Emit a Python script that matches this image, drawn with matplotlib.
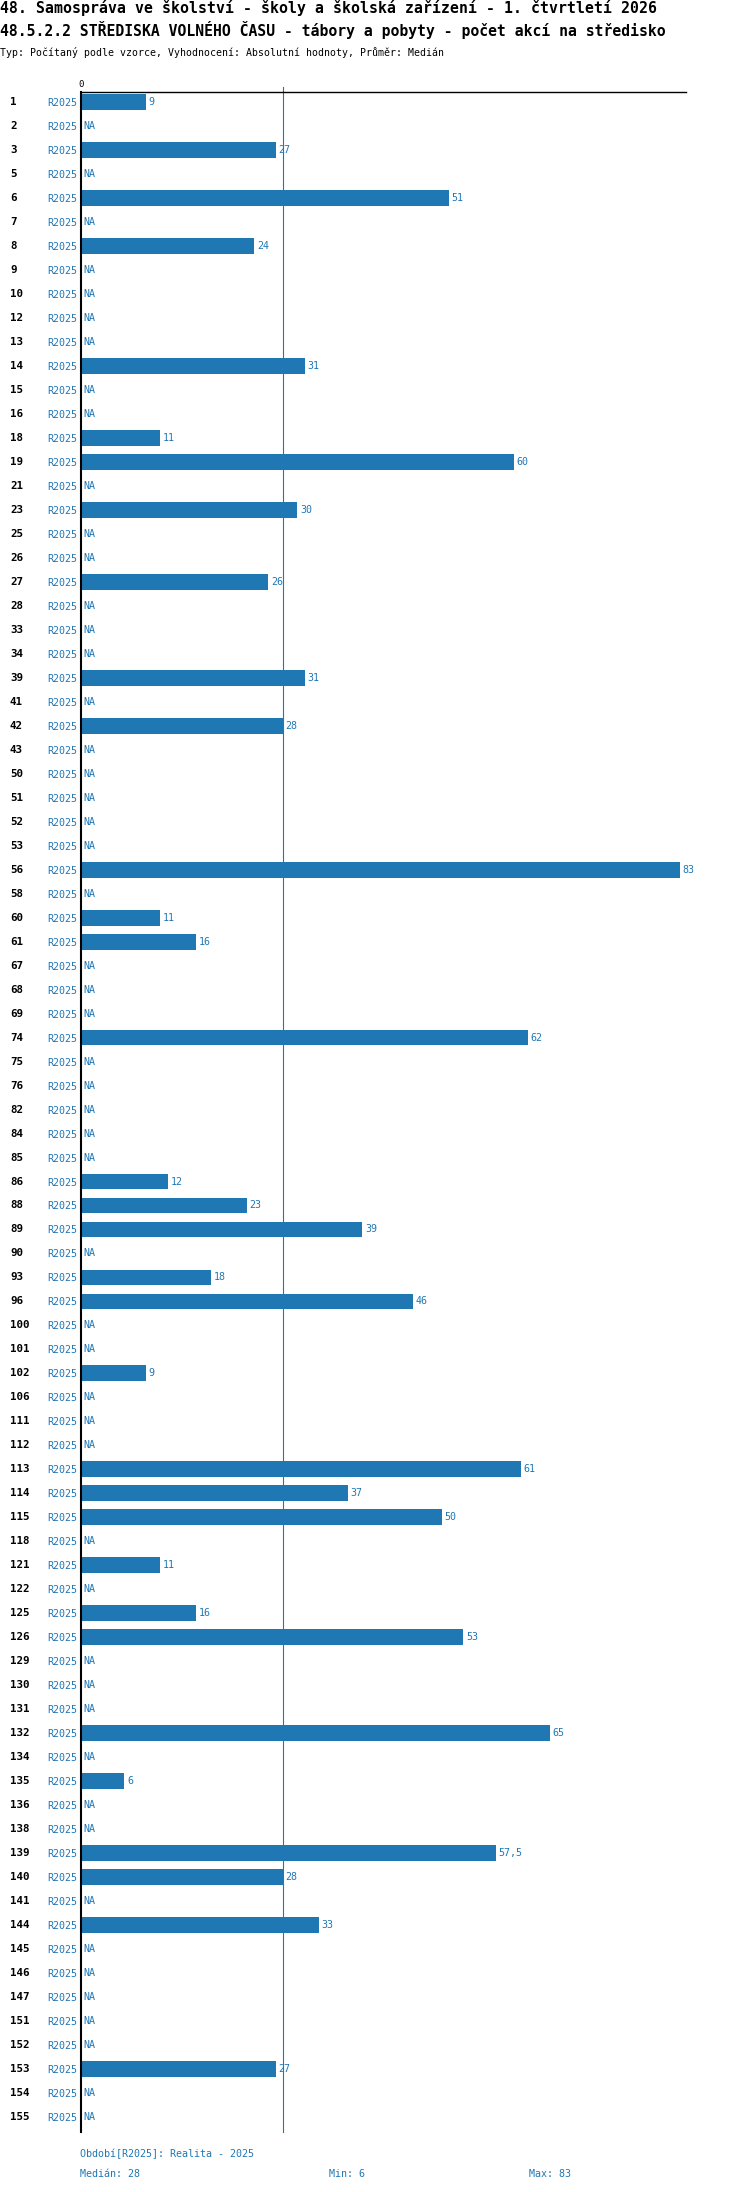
import matplotlib
matplotlib.use("Agg")
import matplotlib.pyplot as plt
import numpy as np

rows = [1, 2, 3, 5, 6, 7, 8, 9, 10, 12, 13, 14, 15, 16, 18, 19, 21, 23, 25, 26,
        27, 28, 33, 34, 39, 41, 42, 43, 50, 51, 52, 53, 56, 58, 60, 61, 67, 68, 69, 74,
        75, 76, 82, 84, 85, 86, 88, 89, 90, 93, 96, 100, 101, 102, 106, 111, 112, 113, 114, 115,
        118, 121, 122, 125, 126, 129, 130, 131, 132, 134, 135, 136, 138, 139, 140, 141, 144, 145, 146, 147,
        151, 152, 153, 154, 155]
values = [9, None, 27, None, 51, None, 24, None, None, None, None, 31, None, None, 11, 60, None, 30, None, None,
          26, None, None, None, 31, None, 28, None, None, None, None, None, 83, None, 11, 16, None, None, None, 62,
          None, None, None, None, None, 12, 23, 39, None, 18, 46, None, None, 9, None, None, None, 61, 37, 50,
          None, 11, None, 16, 53, None, None, None, 65, None, 6, None, None, 57.5, 28, None, 33, None, None, None,
          None, None, 27, None, None]
period = "R2025"
median_val = 28
min_val = 6
max_val = 83

title1 = "48. Samospráva ve školství - školy a školská zařízení - 1. čtvrtletí 2026"
title2 = "48.5.2.2 STŘEDISKA VOLNÉHO ČASU - tábory a pobyty - počet akcí na středisko"
subtitle = "Typ: Počítaný podle vzorce, Vyhodnocení: Absolutní hodnoty, Průměr: Medián"
footer1 = "Období[R2025]: Realita - 2025"

BLUE = "#1f77b4"
FONT = "DejaVu Sans Mono"
W, H = 750, 2192

fig = plt.figure(figsize=(W / 100, H / 100), dpi=100)
ax_left, ax_right, ax_top, ax_bot = 81, 686, 92, 2132
ax = fig.add_axes([ax_left / W, 1 - ax_bot / H, (ax_right - ax_left) / W, (ax_bot - ax_top) / H])

n = len(rows)
ypos = np.arange(n)
vals = np.array([np.nan if v is None else v for v in values], dtype=float)
ax.barh(ypos, np.nan_to_num(vals), height=0.66, color=BLUE, zorder=2)

ax.set_xlim(0, 83.9)
ax.set_ylim(n - 1 + 0.625, -0.42)

for s in ["right", "bottom"]:
    ax.spines[s].set_visible(False)
ax.spines["left"].set_linewidth(1.5)
ax.spines["top"].set_linewidth(1.0)
ax.spines["left"].set_zorder(3)

ax.xaxis.tick_top()
ax.set_xticks([0])
ax.set_xticklabels(["0"], fontsize=6.5, family=FONT)
ax.tick_params(axis="x", length=0, pad=2)

ax.set_yticks(ypos)
ax.set_yticklabels([period] * n, fontsize=7.2, family=FONT, color=BLUE)
ax.tick_params(axis="y", length=0, pad=3)

ax.axvline(median_val, ymin=0, ymax=1.0025, color=BLUE, lw=0.8, clip_on=False, zorder=1)

def fmt(v):
    if v == int(v):
        return str(int(v))
    return str(v).replace(".", ",")

for y, v in zip(ypos, vals):
    if np.isnan(v):
        ax.annotate("NA", (0, y), xytext=(2, 0), textcoords="offset points",
                    va="center", ha="left", fontsize=7.2, family=FONT, color=BLUE)
    else:
        ax.annotate(fmt(v), (v, y), xytext=(2, 0), textcoords="offset points",
                    va="center", ha="left", fontsize=7.2, family=FONT, color=BLUE)

tr = ax.get_yaxis_transform()
xlab = (10 - ax_left) / (ax_right - ax_left)
for y, r in zip(ypos, rows):
    ax.text(xlab, y, str(r), transform=tr, ha="left", va="center",
            fontsize=7.8, fontweight="bold", family=FONT, color="black", clip_on=False)

fig.text(0, 1 - 8.5 / H, title1, ha="left", va="center", fontsize=10.75, fontweight="bold", family=FONT)
fig.text(0, 1 - 30 / H, title2, ha="left", va="center", fontsize=10.65, fontweight="bold", family=FONT)
fig.text(0, 1 - 52 / H, subtitle, ha="left", va="center", fontsize=7.1, family=FONT)

fig.text(80 / W, 1 - 2154 / H, footer1, ha="left", va="center", fontsize=7.2, family=FONT, color=BLUE)
fig.text(80 / W, 1 - 2174 / H, f"Medián: {median_val}", ha="left", va="center", fontsize=7.2, family=FONT, color=BLUE)
fig.text(329 / W, 1 - 2174 / H, f"Min: {min_val}", ha="left", va="center", fontsize=7.2, family=FONT, color=BLUE)
fig.text(529 / W, 1 - 2174 / H, f"Max: {max_val}", ha="left", va="center", fontsize=7.2, family=FONT, color=BLUE)

fig.savefig("out.png", dpi=100)
